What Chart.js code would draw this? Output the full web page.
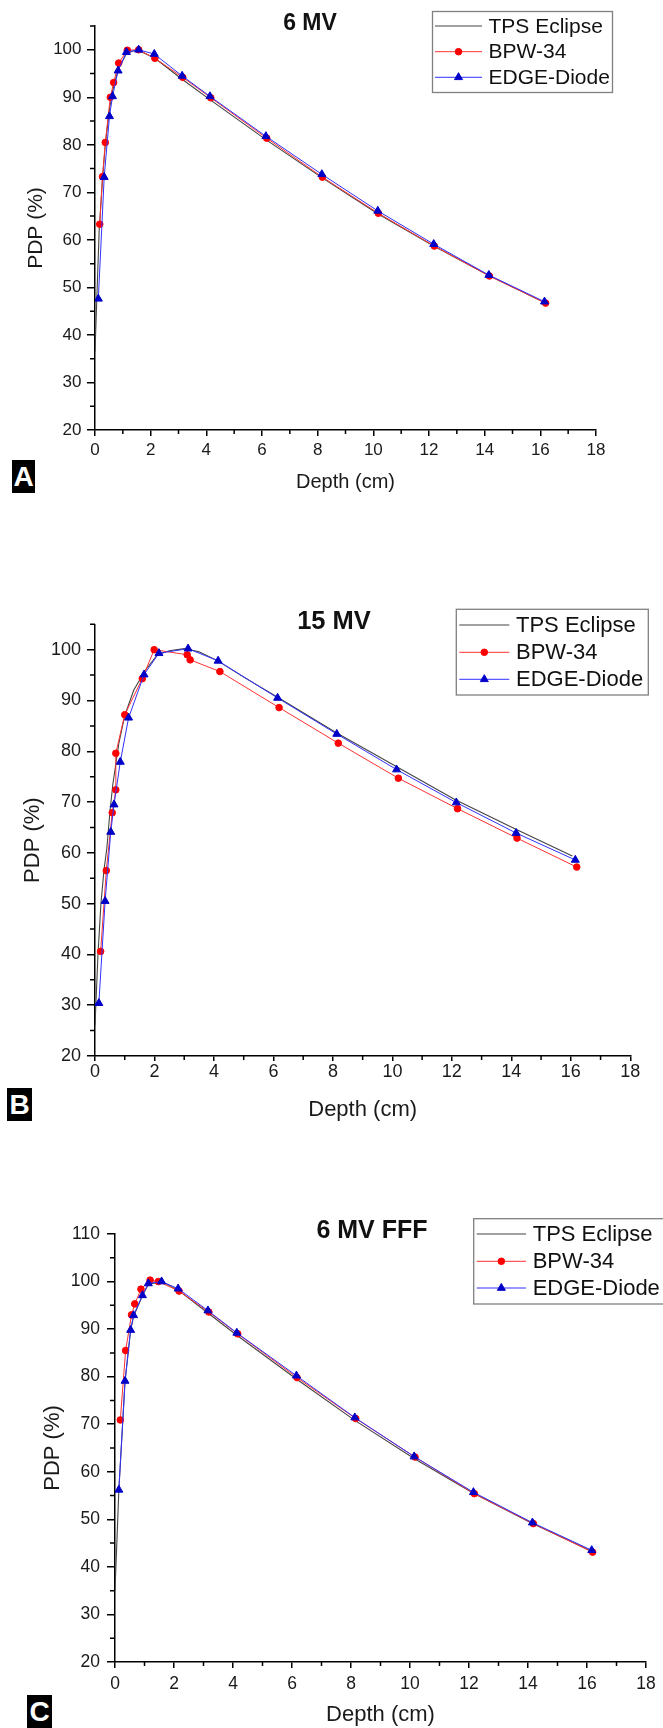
<!DOCTYPE html>
<html>
<head>
<meta charset="utf-8">
<script src="https://cdn.jsdelivr.net/npm/chart.js@4.4.0/dist/chart.umd.min.js"></script>
<style>
  body { margin: 0; background: #fff; width: 663px; height: 1728px; position: relative; overflow: hidden; font-family: "Liberation Sans", Arial, sans-serif; }
  canvas { position: absolute; left: 0; }
  .tag { position: absolute; background: #000; color: #fff; font-weight: bold; font-size: 28px; text-align: center; line-height: 34px; height: 33px; }
</style>
</head>
<body>
<canvas id="chartA" width="663" height="500" style="top:0"></canvas>
<canvas id="chartB" width="663" height="540" style="top:590px"></canvas>
<canvas id="chartC" width="663" height="520" style="top:1208px"></canvas>
<div class="tag" style="left:12px;top:460px;width:23px">A</div>
<div class="tag" style="left:7px;top:1088px;width:25px">B</div>
<div class="tag" style="left:27px;top:1695px;width:25px">C</div>
<script>
// series labels
var seriesNames = ['TPS Eclipse', 'BPW-34', 'EDGE-Diode'];

// A - 6 MV
var tpsDepthA = [0, 0.05, 0.15, 0.27, 0.37, 0.52, 0.63, 0.83, 1.13, 1.5, 2.13, 3.13, 4.13, 6.14, 8.15, 10.16, 12.17, 14.15, 16.15];
var tpsPdpA   = [36.5, 45, 62, 72.8, 80, 87.5, 91.3, 95.8, 99.2, 100, 98.3, 93.8, 89.5, 81.1, 73.1, 65.5, 58.7, 52.5, 46.8];
var bpwDepthA = [0.17, 0.27, 0.37, 0.55, 0.67, 0.85, 1.16, 1.57, 2.15, 3.15, 4.16, 6.17, 8.17, 10.18, 12.19, 14.17, 16.19];
var bpwPdpA   = [63.3, 73.3, 80.5, 90.0, 93.1, 97.2, 99.9, 100, 98.2, 94.2, 89.9, 81.4, 73.2, 65.6, 58.7, 52.4, 46.7];
var edgeDepthA = [0.12, 0.33, 0.52, 0.63, 0.83, 1.13, 1.57, 2.13, 3.13, 4.13, 6.14, 8.15, 10.16, 12.17, 14.15, 16.15];
var edgePdpA   = [47.6, 73.2, 86.0, 90.2, 95.6, 99.5, 100, 99.1, 94.5, 90.2, 81.8, 73.8, 66.1, 59.1, 52.6, 47.0];

// B - 15 MV
var tpsDepthB = [0, 0.1, 0.2, 0.3, 0.4, 0.5, 0.6, 0.8, 1.0, 1.3, 1.7, 2.1, 2.5, 3.0, 3.5, 4.1, 5.0, 6.1, 8.1, 10.1, 12.1, 14.1, 16.05];
var tpsPdpB   = [26, 40, 50, 56.5, 61, 68, 73.5, 81.5, 87, 92, 96, 99, 99.8, 100.2, 99.6, 97.9, 94.6, 90.8, 83.7, 77.1, 70.5, 64.8, 59.4];
var bpwDepthB = [0.19, 0.38, 0.58, 0.70, 0.70, 1.0, 1.59, 1.99, 3.10, 3.20, 4.20, 6.19, 8.18, 10.2, 12.19, 14.19, 16.2];
var bpwPdpB   = [40.6, 56.5, 67.9, 72.4, 79.6, 87.2, 94.3, 100, 99.0, 98.0, 95.7, 88.6, 81.6, 74.7, 68.7, 62.9, 57.2];
var edgeDepthB = [0.13, 0.34, 0.53, 0.64, 0.85, 1.13, 1.65, 2.15, 3.13, 4.14, 6.14, 8.13, 10.14, 12.15, 14.16, 16.15];
var edgePdpB   = [30.4, 50.5, 64.1, 69.5, 77.9, 86.6, 95.1, 99.3, 100.2, 97.8, 90.5, 83.4, 76.4, 69.9, 63.9, 58.6];

// C - 6 MV FFF
var tpsDepthC = [0, 0.13, 0.34, 0.53, 0.63, 0.93, 1.13, 1.58, 2.14, 3.15, 4.13, 6.15, 8.13, 10.14, 12.15, 14.15, 16.16];
var tpsPdpC   = [35, 56, 79, 89.8, 92.7, 97, 99.4, 100, 98.2, 93.4, 88.7, 79.5, 70.8, 62.8, 55.5, 49.1, 43.3];
var bpwDepthC = [0.18, 0.36, 0.56, 0.67, 0.88, 1.19, 1.47, 2.17, 3.18, 4.16, 6.17, 8.16, 10.17, 12.18, 14.18, 16.19];
var bpwPdpC   = [70.9, 85.5, 93.0, 95.3, 98.4, 100.3, 100.0, 98.0, 93.6, 89.0, 79.8, 71.2, 63.1, 55.4, 49.1, 43.1];
var edgeDepthC = [0.13, 0.34, 0.53, 0.63, 0.93, 1.13, 1.58, 2.14, 3.15, 4.13, 6.15, 8.13, 10.14, 12.15, 14.15, 16.16];
var edgePdpC   = [56.2, 79.1, 89.8, 92.9, 97.1, 99.6, 100, 98.5, 93.9, 89.2, 80.2, 71.4, 63.2, 55.7, 49.3, 43.5];

var FONT = "'Liberation Sans', Arial, sans-serif";
Chart.defaults.font.family = FONT;
Chart.defaults.color = '#1a1a1a';

function pts(xs, ys) {
    return xs.map(function (x, i) { return { x: x, y: ys[i] }; });
}

function makeDatasets(td, tp, bd, bp, ed, ep) {
    return [{
        label: seriesNames[0], data: pts(td, tp), order: 3,
        borderColor: '#444', borderWidth: 1.1, pointRadius: 0
    }, {
        label: seriesNames[1], data: pts(bd, bp), order: 2,
        borderColor: '#ff3030', borderWidth: 1, pointStyle: 'circle', pointRadius: 3.3,
        pointBackgroundColor: '#ff0000', pointBorderColor: '#ff0000'
    }, {
        label: seriesNames[2], data: pts(ed, ep), order: 1,
        borderColor: '#3030ff', borderWidth: 1, pointStyle: 'triangle', pointRadius: 4.6,
        pointBackgroundColor: '#0000c8', pointBorderColor: '#0000c8'
    }];
}

// title, legend box and minor ticks drawn on top of each panel
var panelDecor = {
    id: 'panelDecor',
    afterDraw: function (chart, args, o) {
        var ctx = chart.ctx, xs = chart.scales.x, ys = chart.scales.y;
        ctx.save();
        ctx.strokeStyle = '#000';
        ctx.lineWidth = 1.5;
        ctx.beginPath();
        var xt = xs.ticks.map(function (t) { return t.value; });
        for (var i = 0; i < xt.length - 1; i++) {
            var px = xs.getPixelForValue((xt[i] + xt[i + 1]) / 2);
            ctx.moveTo(px, xs.top);
            ctx.lineTo(px, xs.top + o.minorX);
        }
        var yt = ys.ticks.map(function (t) { return t.value; });
        var step = yt[1] - yt[0];
        for (var v = yt[0] + step / 2; v <= ys.max + 0.01; v += step) {
            var py = ys.getPixelForValue(v);
            ctx.moveTo(ys.right, py);
            ctx.lineTo(ys.right - o.minorY, py);
        }
        ctx.stroke();

        ctx.fillStyle = '#111';
        ctx.font = 'bold ' + o.titleSize + 'px ' + FONT;
        ctx.textAlign = 'center';
        ctx.textBaseline = 'middle';
        ctx.fillText(o.title, o.titleX, o.titleY);

        var L = o.legend;
        ctx.strokeStyle = '#808080';
        ctx.lineWidth = 1.3;
        ctx.strokeRect(L.x, L.y, L.w, L.h);
        ctx.font = L.size + 'px ' + FONT;
        ctx.textAlign = 'left';
        chart.data.datasets.forEach(function (ds, k) {
            var y = L.rows[k];
            ctx.strokeStyle = ds.borderColor;
            ctx.lineWidth = ds.borderWidth;
            ctx.beginPath();
            ctx.moveTo(L.x0, y);
            ctx.lineTo(L.x1, y);
            ctx.stroke();
            if (ds.pointRadius > 0) {
                ctx.fillStyle = ds.pointBackgroundColor;
                ctx.strokeStyle = ds.pointBorderColor;
                Chart.helpers.drawPoint(ctx, { pointStyle: ds.pointStyle, radius: ds.pointRadius, borderWidth: 1, rotation: 0 }, (L.x0 + L.x1) / 2, y);
            }
            ctx.fillStyle = '#111';
            ctx.fillText(ds.label, L.tx, y + 1);
        });
        ctx.restore();
    }
};

function makePanel(id, datasets, p) {
    return new Chart(document.getElementById(id), {
        type: 'scatter',
        data: { datasets: datasets },
        plugins: [panelDecor],
        options: {
            responsive: false,
            devicePixelRatio: 1,
            animation: false,
            showLine: true,
            layout: { padding: p.padding },
            plugins: {
                legend: { display: false },
                tooltip: { enabled: false },
                panelDecor: p.decor
            },
            scales: {
                x: {
                    type: 'linear', min: 0, max: 18,
                    afterFit: function (s) { s.height = p.xAxisH; },
                    ticks: { stepSize: 2, autoSkip: false, maxRotation: 0, font: { size: p.tickSize }, padding: p.xPad },
                    grid: { drawOnChartArea: false, tickLength: p.xTickLen, color: '#000', lineWidth: 1.5 },
                    border: { display: true, color: '#000', width: 1.5 },
                    title: { display: true, text: 'Depth (cm)', font: { size: p.xTitleSize }, padding: { top: 0, bottom: p.xTitlePad } }
                },
                y: {
                    type: 'linear', min: 20, max: p.yMax,
                    afterFit: function (s) { s.width = p.yAxisW; },
                    afterBuildTicks: function (s) { s.ticks = s.ticks.filter(function (t) { return t.value % 10 === 0; }); },
                    ticks: { stepSize: 10, font: { size: p.tickSize }, padding: p.yPad },
                    grid: { drawOnChartArea: false, tickLength: 8, color: '#000', lineWidth: 1.5 },
                    border: { display: true, color: '#000', width: 1.5 },
                    title: { display: true, text: 'PDP (%)', font: { size: p.yTitleSize }, padding: { top: p.yTitlePad, bottom: 0 } }
                }
            }
        }
    });
}

makePanel('chartA', makeDatasets(tpsDepthA, tpsPdpA, bpwDepthA, bpwPdpA, edgeDepthA, edgePdpA), {
    padding: { left: 0, top: 26, right: 67, bottom: 0 },
    yAxisW: 95, xAxisH: 70, yMax: 105,
    tickSize: 17, xTickLen: 6, xPad: 4, yPad: 5.5,
    xTitleSize: 20, xTitlePad: 6, yTitleSize: 21, yTitlePad: 24,
    decor: {
        minorX: 4, minorY: 5,
        title: '6 MV', titleX: 310, titleY: 23.5, titleSize: 23,
        legend: { x: 432.5, y: 11.5, w: 180, h: 81, rows: [26, 51.7, 77.3], x0: 435, x1: 482, tx: 488.5, size: 21 }
    }
});

makePanel('chartB', makeDatasets(tpsDepthB, tpsPdpB, bpwDepthB, bpwPdpB, edgeDepthB, edgePdpB), {
    padding: { left: 0, top: 34.3, right: 32.7, bottom: 0 },
    yAxisW: 95, xAxisH: 74, yMax: 105,
    tickSize: 18, xTickLen: 5, xPad: 0, yPad: 6,
    xTitleSize: 22, xTitlePad: 6.8, yTitleSize: 22, yTitlePad: 19.8,
    decor: {
        minorX: 4, minorY: 5,
        title: '15 MV', titleX: 334, titleY: 32.3, titleSize: 25.5,
        legend: { x: 456.3, y: 19.3, w: 192, h: 85.7, rows: [35, 62.3, 89.3], x0: 459.3, x1: 509.3, tx: 516, size: 22 }
    }
});

makePanel('chartC', makeDatasets(tpsDepthC, tpsPdpC, bpwDepthC, bpwPdpC, edgeDepthC, edgePdpC), {
    padding: { left: 0, top: 26, right: 17, bottom: 0 },
    yAxisW: 115, xAxisH: 66, yMax: 110,
    tickSize: 17.5, xTickLen: 6, xPad: 5.5, yPad: 7,
    xTitleSize: 22, xTitlePad: 0, yTitleSize: 22, yTitlePad: 39.8,
    decor: {
        minorX: 4, minorY: 5,
        title: '6 MV FFF', titleX: 372, titleY: 23.3, titleSize: 25,
        legend: { x: 473.7, y: 10.7, w: 200, h: 85.3, rows: [26, 53.3, 80], x0: 476.7, x1: 526, tx: 532.7, size: 22 }
    }
});
</script>
</body>
</html>
